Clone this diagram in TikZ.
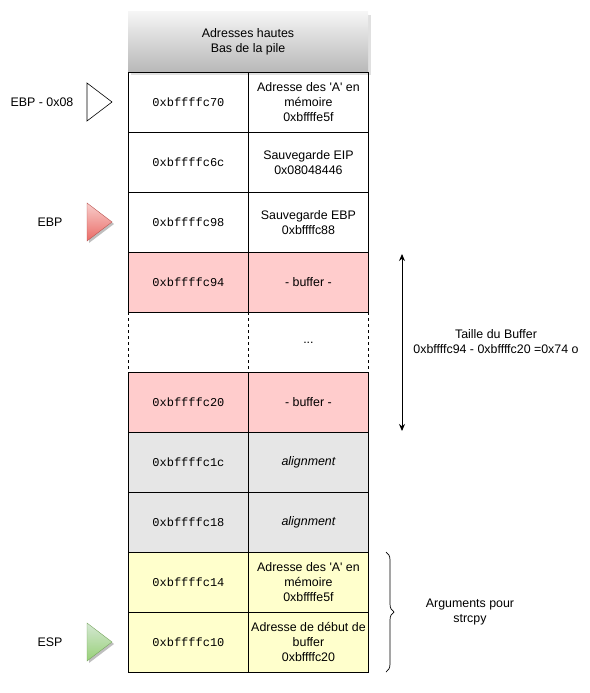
\documentclass[tikz,border=0pt]{standalone}
\usepackage{fontspec}
\setmainfont{Liberation Sans}[Ligatures=TeXOff]
\setmonofont{Liberation Mono}
\usetikzlibrary{decorations.pathreplacing,arrows.meta}
\definecolor{pinkc}{HTML}{FFCCCC}
\definecolor{grayc}{HTML}{E6E6E6}
\definecolor{yelc}{HTML}{FFFFCC}
\definecolor{redlt}{HTML}{F8CECC}
\definecolor{reddk}{HTML}{EA6B66}
\definecolor{grnlt}{HTML}{D5E8D4}
\definecolor{grndk}{HTML}{97D077}
\tikzset{
  cell/.style={draw=black, line width=0.9pt, minimum width=120pt, minimum height=60pt, inner sep=0pt, anchor=north west, align=center, font=\fontsize{12.4}{15}\selectfont},
  addr/.style={cell, font=\ttfamily\fontsize{12}{14}\selectfont},
  dcell/.style={cell, draw=none},
  lbl/.style={font=\fontsize{12.4}{15}\selectfont, align=center, inner sep=0pt},
  tri/.style={draw=black!60, line width=0.5pt},
}
\begin{document}
\begin{tikzpicture}[x=1pt,y=-1pt]
\useasboundingbox (0,0) rectangle (589,693);
% header
\fill[black!12] (131,15) rectangle (371,75);
\shade[top color=black!4, bottom color=black!28] (128,12) rectangle (368,72);
\node[lbl] (hdr) at (248,42) {Adresses hautes\\Bas de la pile};
% rows
\node[addr] (a1) at (128,72) {0xbffffc70};
\node[cell] (b1) at (248,72) {Adresse des 'A' en\\mémoire\\0xbffffe5f};
\node[addr] (a2) at (128,132) {0xbffffc6c};
\node[cell] (b2) at (248,132) {Sauvegarde EIP\\0x08048446};
\node[addr] (a3) at (128,192) {0xbffffc98};
\node[cell] (b3) at (248,192) {Sauvegarde EBP\\0xbffffc88};
\node[addr, fill=pinkc] (a4) at (128,252) {0xbffffc94};
\node[cell, fill=pinkc] (b4) at (248,252) {- buffer -};
\node[dcell] (a5) at (128,312) {};
\node[dcell] (b5) at (248,312) {...};
\draw[dashed, line width=0.9pt] (a5.north west) -- (a5.south west);
\draw[dashed, line width=0.9pt] (b5.north west) -- (b5.south west);
\draw[dashed, line width=0.9pt] (b5.north east) -- (b5.south east);
\node[addr, fill=pinkc] (a6) at (128,372) {0xbffffc20};
\node[cell, fill=pinkc] (b6) at (248,372) {- buffer -};
\node[addr, fill=grayc] (a7) at (128,432) {0xbffffc1c};
\node[cell, fill=grayc] (b7) at (248,432) {\itshape alignment};
\node[addr, fill=grayc] (a8) at (128,492) {0xbffffc18};
\node[cell, fill=grayc] (b8) at (248,492) {\itshape alignment};
\node[addr, fill=yelc] (a9) at (128,552) {0xbffffc14};
\node[cell, fill=yelc] (b9) at (248,552) {Adresse des 'A' en\\mémoire\\0xbffffe5f};
\node[addr, fill=yelc] (a10) at (128,612) {0xbffffc10};
\node[cell, fill=yelc] (b10) at (248,612) {Adresse de début de\\buffer\\0xbffffc20};
\draw[line width=0.9pt] (a1.north west) -- (b1.north east);
% pointers
\draw[tri, draw=black, line width=0.6pt, fill=white] (87,83) -- (112,102) -- (87,121) -- cycle;
\node[lbl] (l1) at (42,102) {EBP - 0x08};
\fill[black!25] (89,205) -- (114,224) -- (89,243) -- cycle;
\shade[top color=redlt, bottom color=reddk, draw=reddk!80!black, line width=0.4pt] (87,203) -- (112,222) -- (87,241) -- cycle;
\node[lbl] (l2) at (50,222) {EBP};
\fill[black!25] (89,625) -- (114,644) -- (89,663) -- cycle;
\shade[top color=grnlt, bottom color=grndk, draw=grndk!80!black, line width=0.4pt] (87,623) -- (112,642) -- (87,661) -- cycle;
\node[lbl] (l3) at (50,642) {ESP};
% buffer size
\coordinate (ctop) at (402,254);
\coordinate (cbot) at (402,431);
\draw[line width=0.9pt, {Stealth[length=7pt,width=6pt]}-{Stealth[length=7pt,width=6pt]}] (ctop) -- (cbot);
\node[lbl] (size) at (496,342) {Taille du Buffer\\0xbffffc94 - 0xbffffc20 =0x74 o};
% brace
\coordinate (btop) at (386,552);
\coordinate (bbot) at (386,672);
\draw[line width=0.7pt, decorate, decoration={brace, amplitude=8pt}] (btop) -- (bbot);
\node[lbl] (args) at (470,612) {Arguments pour\\strcpy};
\end{tikzpicture}
\end{document}
